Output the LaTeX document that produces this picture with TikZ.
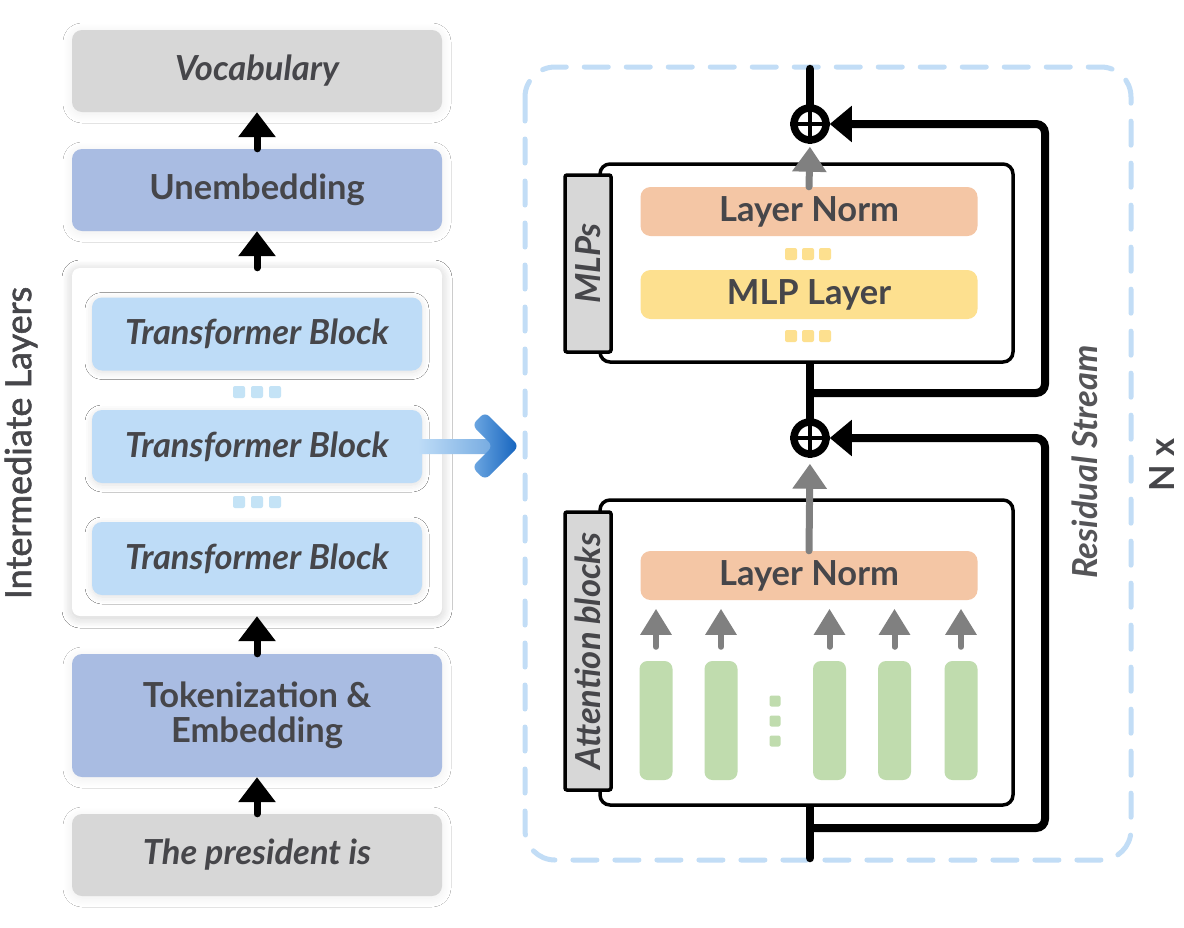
\documentclass[tikz,border=0pt]{standalone}
\usepackage{fontspec}
\setmainfont{Lato}
\usetikzlibrary{arrows.meta,shadows.blur,calc}
\definecolor{txt}{HTML}{46464A}
\definecolor{vgray}{HTML}{D7D7D7}
\definecolor{emb}{HTML}{A9BCE2}
\definecolor{tbblue}{HTML}{BEDCF7}
\definecolor{dotblue}{HTML}{C4E3F6}
\definecolor{dashblue}{HTML}{C2DDF6}
\definecolor{lnorm}{HTML}{F4C6A5}
\definecolor{mlpy}{HTML}{FDE08F}
\definecolor{green}{HTML}{C0DCAE}
\definecolor{garrow}{HTML}{808080}
\definecolor{shaftend}{HTML}{6AA3DD}
\definecolor{chevl}{HTML}{6FA8E2}
\definecolor{chevr}{HTML}{1262BD}
\begin{document}
\begin{tikzpicture}[x=1pt,y=-1pt,
  lbox/.style={rounded corners=10pt, minimum width=370pt, inner sep=0pt, text=txt,
    blur shadow={shadow xshift=0pt, shadow yshift=-2pt, shadow blur radius=9pt, shadow blur steps=14, shadow opacity=7}},
  bi/.style={font=\fontsize{34.5pt}{36pt}\selectfont\bfseries\itshape},
  bu/.style={font=\fontsize{34.5pt}{36pt}\selectfont\bfseries},
  tbox/.style={lbox, fill=tbblue, minimum width=330pt, minimum height=73pt, bi,
    blur shadow={shadow xshift=0pt, shadow yshift=-2pt, shadow blur radius=7pt, shadow blur steps=12, shadow opacity=6}},
  blk/.style={line width=7pt, line cap=round, -{Triangle[length=25pt,width=36pt]}},
  dotsq/.style={rounded corners=2pt, minimum size=12pt, inner sep=0pt},
  rbox/.style={draw=black, line width=3.5pt, rounded corners=10pt, fill=white, inner sep=0pt},
  tab/.style={draw=black, line width=3.5pt, rounded corners=2pt, fill=vgray, inner sep=0pt, rotate=90, text=txt, bi},
  ibox/.style={rounded corners=10pt, inner sep=0pt, minimum width=337pt, minimum height=49pt, text=txt, bu},
  gbar/.style={rounded corners=8pt, fill=green, minimum width=33pt, minimum height=119pt, inner sep=0pt},
  res/.style={line width=8.5pt, line cap=round, draw=black},
  resarr/.style={line width=8pt, draw=black, rounded corners=9pt, -{Triangle[length=22pt,width=35pt]}},
  gar/.style={line width=7pt, line cap=round, draw=garrow, -{Triangle[length=25pt,width=33pt]}},
  gsm/.style={line width=6pt, line cap=round, draw=garrow, -{Triangle[length=26pt,width=30pt]}},
  oplus/.style={circle, draw=black, line width=7.5pt, minimum size=32pt, inner sep=0pt, fill=white}
]
\useasboundingbox (0,0) rectangle (1184,927);
\fill[white] (0,0) rectangle (1184,927);

% ---------- left column ----------
\node[rotate=90, text=txt, font=\fontsize{36pt}{40pt}\selectfont\addfontfeature{FakeBold=1.6}] (ilabel) at (21,443) {Intermediate Layers};

\node[lbox, fill=vgray, minimum height=82pt, bi] (vocab) at (257,71) {Vocabulary};
\node[lbox, fill=emb, minimum height=82pt, bu] (unemb) at (257,190) {Unembedding};
\node[lbox, fill=white, minimum height=348pt, rounded corners=8pt,
  blur shadow={shadow xshift=0pt, shadow yshift=-2pt, shadow blur radius=10pt, shadow blur steps=14, shadow opacity=10}] (panel) at (257,442) {};
\node[tbox] (tb1) at (257,334) {Transformer Block};
\node[tbox] (tb2) at (257,446.5) {Transformer Block};
\node[tbox] (tb3) at (257,558.5) {Transformer Block};
\foreach \i/\x in {1/239,2/257,3/275}{
  \node[dotsq, fill=dotblue] (bda\i) at (\x,392) {};
  \node[dotsq, fill=dotblue] (bdb\i) at (\x,502) {};
}
\node[lbox, fill=emb, minimum height=123pt, font=\fontsize{34.5pt}{35pt}\selectfont\bfseries, align=center] (tok) at (257,715.5) {Tokenization \&\\Embedding};
\node[lbox, fill=vgray, minimum height=82pt, bi] (pres) at (257,855) {The president is};

\draw[blk] (unemb.north) -- (vocab.south);
\draw[blk] (panel.north) -- (unemb.south);
\draw[blk] (tok.north) -- (panel.south);
\draw[blk] (pres.north) -- (tok.south);

% ---------- blue arrow ----------
\shade[left color=tbblue, right color=shaftend, rounded corners=4pt]
  ($(tb2.east)+(-4,-7.5)$) rectangle ($(tb2.east)+(82,7.5)$);
\shade[left color=chevl, right color=chevr, rounded corners=6pt]
  (519,446) -- (485,412) -- (472,425) -- (493,446) -- (472,467) -- (485,480) -- cycle;

% ---------- dashed frame ----------
\draw[dashblue, line width=5pt, dash pattern=on 24pt off 18pt, line cap=round, rounded corners=30pt]
  (525,67) rectangle (1131,860);

% ---------- right part ----------
\coordinate (top) at (810,69);
\coordinate (bot) at (810,858);
\coordinate (b1) at (810,828);
\coordinate (r2) at (1045,438);
\coordinate (b2) at (810,393);
\coordinate (r1) at (1045,124);

\node[oplus] (p1) at (810,124) {};
\node[oplus] (p2) at (810,438) {};
\draw[line width=4pt] (p1.north) -- (p1.south) (p1.west) -- (p1.east);
\draw[line width=4pt] (p2.north) -- (p2.south) (p2.west) -- (p2.east);

\draw[res] (p1.north) -- (top);
\draw[res] (bot) -- (810,805);
\draw[res] (p2.north) -- (810,362);
\draw[resarr] (b1) -| (r2) -- (p2);
\draw[resarr] (b2) -| (r1) -- (p1);

\node[rbox, minimum width=413pt, minimum height=198pt] (mlp) at (806.5,263) {};
\node[tab, minimum width=177pt, minimum height=46pt] (mlptab) at (588,263.5) {MLPs};
\node[ibox, fill=lnorm] (ln1) at (809,211.5) {Layer Norm};
\node[ibox, fill=mlpy] (mlpl) at (809,294.5) {MLP Layer};
\foreach \i/\x in {1/791,2/808,3/825}{
  \node[dotsq, fill=mlpy] (yda\i) at (\x,254) {};
  \node[dotsq, fill=mlpy] (ydb\i) at (\x,336) {};
}

\node[rbox, minimum width=413pt, minimum height=305pt] (att) at (806.5,652.5) {};
\node[tab, minimum width=278pt, minimum height=46pt] (atttab) at (588,651) {Attention blocks};
\node[ibox, fill=lnorm] (ln2) at (809,575.5) {Layer Norm};
\foreach \i/\x in {1/656,2/721,3/829.5,4/894.5,5/961}{
  \node[gbar] (g\i) at (\x,720.5) {};
  \draw[gsm] ([yshift=14pt]g\i.north) -- ([yshift=52pt]g\i.north);
}
\foreach \i/\y in {1/701,2/721,3/741}{
  \node[dotsq, fill=green, minimum size=11pt] (gd\i) at (775,\y) {};
}

\draw[gar, shorten >=3pt] (ln1.north) -- (p1.south);
\draw[gar, shorten >=6pt] (ln2.north) -- (p2.south);

\node[rotate=90, text=txt!92, bi] (rs) at (1085,462) {Residual Stream};
\node[rotate=90, text=txt, bu] (nx) at (1162,465) {N x};
\end{tikzpicture}
\end{document}
